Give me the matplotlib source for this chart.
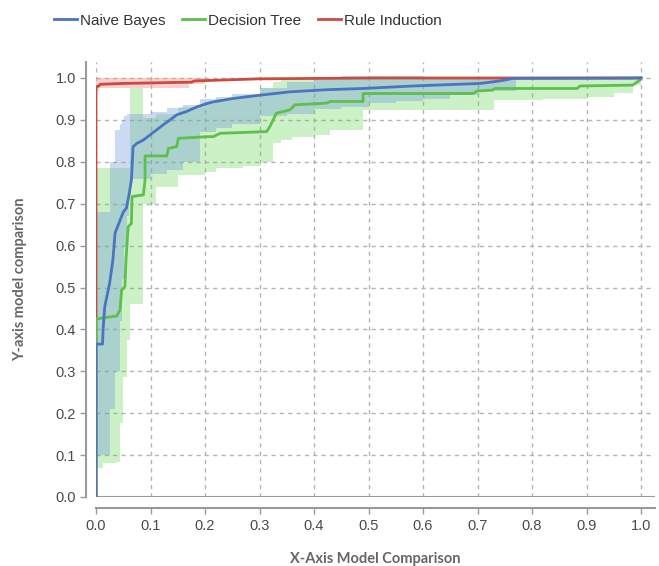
import numpy as np
import matplotlib
matplotlib.use("Agg")
import matplotlib.pyplot as plt

plt.rcParams['font.family'] = ['Liberation Sans', 'DejaVu Sans']

# ROC curves (x = false positive rate, y = true positive rate)
nb_x = [0, 0, 0.012, 0.013, 0.016, 0.025, 0.031, 0.035, 0.044, 0.050, 0.056, 0.061, 0.065,
        0.068, 0.075, 0.087, 0.099, 0.111, 0.123, 0.136, 0.148, 0.166, 0.185, 0.206, 0.215,
        0.251, 0.301, 0.356, 0.423, 0.49, 0.582, 0.705, 0.741, 0.765, 1.0]
nb_y = [0, 0.365, 0.365, 0.40, 0.454, 0.51, 0.566, 0.63, 0.66, 0.68, 0.69, 0.725, 0.757,
        0.836, 0.844, 0.852, 0.864, 0.876, 0.888, 0.90, 0.912, 0.92, 0.931, 0.94, 0.943,
        0.951, 0.959, 0.967, 0.972, 0.975, 0.981, 0.987, 0.993, 0.999, 1.0]

dt_x = [0, 0, 0.038, 0.044, 0.047, 0.053, 0.055, 0.059, 0.065, 0.066, 0.087, 0.09, 0.09,
        0.13, 0.133, 0.148, 0.151, 0.206, 0.215, 0.228, 0.313, 0.319, 0.325, 0.331, 0.356,
        0.365, 0.423, 0.43, 0.49, 0.49, 0.692, 0.699, 0.728, 0.732, 0.883, 0.888, 0.985,
        0.998, 1.0]
dt_y = [0, 0.425, 0.432, 0.446, 0.494, 0.502, 0.566, 0.645, 0.653, 0.717, 0.721, 0.757, 0.814,
        0.814, 0.832, 0.836, 0.856, 0.86, 0.86, 0.868, 0.872, 0.884, 0.90, 0.916, 0.924,
        0.936, 0.94, 0.944, 0.944, 0.963, 0.963, 0.969, 0.971, 0.975, 0.975, 0.981, 0.983,
        0.995, 1.0]

ri_x = [0, 0, 0.004, 0.008, 0.05, 0.175, 0.18, 0.3, 0.5, 1.0]
ri_y = [0, 0.98, 0.98, 0.985, 0.987, 0.99, 0.993, 0.998, 1.0, 1.0]

# spread bands (step-wise lower / upper)
nb_band_x = [0, 0.026, 0.035, 0.044, 0.048, 0.052, 0.056, 0.060, 0.065, 0.10, 0.13, 0.16,
             0.19, 0.22, 0.25, 0.30, 0.35, 0.40, 0.45, 0.50, 0.55, 0.60, 0.65, 0.70, 0.77, 1.0]
nb_band_lo = [0.10, 0.21, 0.30, 0.42, 0.52, 0.60, 0.67, 0.72, 0.76, 0.77, 0.78, 0.80,
              0.87, 0.88, 0.89, 0.91, 0.915, 0.925, 0.93, 0.94, 0.945, 0.95, 0.96, 0.97,
              1.0, 1.0]
nb_band_hi = [0.68, 0.80, 0.876, 0.89, 0.90, 0.91, 0.915, 0.915, 0.915, 0.92, 0.928, 0.935,
              0.95, 0.955, 0.962, 0.975, 0.99, 0.998, 1.005, 1.005, 1.005, 1.003, 1.0, 1.0,
              1.0, 1.0]

dt_band_x = [0, 0.013, 0.038, 0.044, 0.050, 0.056, 0.063, 0.087, 0.11, 0.15, 0.20, 0.22,
             0.27, 0.30, 0.325, 0.34, 0.36, 0.40, 0.43, 0.49, 0.60, 0.73, 0.82, 0.90, 0.95,
             0.985, 1.0]
dt_band_lo = [0.07, 0.08, 0.084, 0.176, 0.287, 0.375, 0.46, 0.70, 0.74, 0.768, 0.776, 0.785,
              0.79, 0.80, 0.845, 0.852, 0.86, 0.864, 0.876, 0.924, 0.924, 0.947, 0.95, 0.955,
              0.965, 0.983, 0.983]
dt_band_hi = [0.785, 0.785, 0.785, 0.785, 0.785, 0.785, 0.975, 0.905, 0.915, 0.93, 0.94,
              0.95, 0.96, 0.975, 0.99, 1.0, 1.0, 1.0, 1.0, 1.0, 1.0, 1.0, 1.0, 1.0, 0.998,
              0.995, 0.995]

ri_band_x = [0, 0.005, 0.17, 0.2, 1.0]
ri_band_lo = [0.97, 0.975, 0.985, 1.0, 1.0]
ri_band_hi = [1.0, 1.0, 1.0, 1.0, 1.0]

xticks = np.arange(0, 1.01, 0.1)
yticks = np.arange(0, 1.01, 0.1)

fig = plt.figure(figsize=(6.59, 5.66), dpi=100)
ax = fig.add_axes([96 / 659, 1 - 497 / 566, 559 / 659, 435 / 566])

ax.fill_between(dt_band_x, dt_band_lo, dt_band_hi, step='post',
                color='#5ad246', alpha=0.3, linewidth=0, zorder=1)
ax.fill_between(nb_band_x, nb_band_lo, nb_band_hi, step='post',
                color='#6a96dc', alpha=0.35, linewidth=0, zorder=1)
ax.fill_between(ri_band_x, ri_band_lo, ri_band_hi, step='post',
                color='#f08a8a', alpha=0.4, linewidth=0, zorder=1)

ax.plot(ri_x, ri_y, color='#cc4a40', lw=2, zorder=3, label='Rule Induction')
ax.plot(dt_x, dt_y, color='#5cc04a', lw=2, zorder=4, label='Decision Tree')
ax.plot(nb_x, nb_y, color='#4a74c0', lw=2, zorder=5, label='Naive Bayes')

ax.set_xlim(0, 559 / 545)
ax.set_ylim(0, 435 / 419)
ax.set_xticks(xticks)
ax.set_yticks(yticks)
ax.set_xticklabels([f"{v:.1f}" for v in xticks])
ax.set_yticklabels([f"{v:.1f}" for v in yticks])

ax.grid(True, color='#b4b4b4', linestyle=(0, (3, 3)), linewidth=1)
ax.set_axisbelow(True)
ax.axhline(0, color='#9a9a9a', lw=1.5, zorder=2)

for s in ['top', 'right']:
    ax.spines[s].set_visible(False)
ax.spines['left'].set_position(('outward', 7))
ax.spines['bottom'].set_position(('outward', 8))
for s in ['left', 'bottom']:
    ax.spines[s].set_color('#9a9a9a')
    ax.spines[s].set_linewidth(1.5)
ax.tick_params(colors='#9a9a9a', labelcolor='#4a4a4a', labelsize=10.5, length=4, width=1)

ax.set_xlabel('X-Axis Model Comparison', fontsize=10.5, fontweight='bold', color='#666666',
              family=['Lato', 'DejaVu Sans'], labelpad=14)
ax.set_ylabel('Y-axis model comparison', fontsize=10.5, fontweight='bold', color='#666666',
              family=['Lato', 'DejaVu Sans'], labelpad=20)

h, l = ax.get_legend_handles_labels()
order = [2, 1, 0]
fig.legend([h[i] for i in order], [l[i] for i in order], loc='upper left',
           bbox_to_anchor=(40 / 659, 1.0), ncol=3, frameon=False, fontsize=11,
           handlelength=1.5, handletextpad=0.2, columnspacing=1.1, labelcolor='#333333')

fig.savefig('out.png', dpi=100)
